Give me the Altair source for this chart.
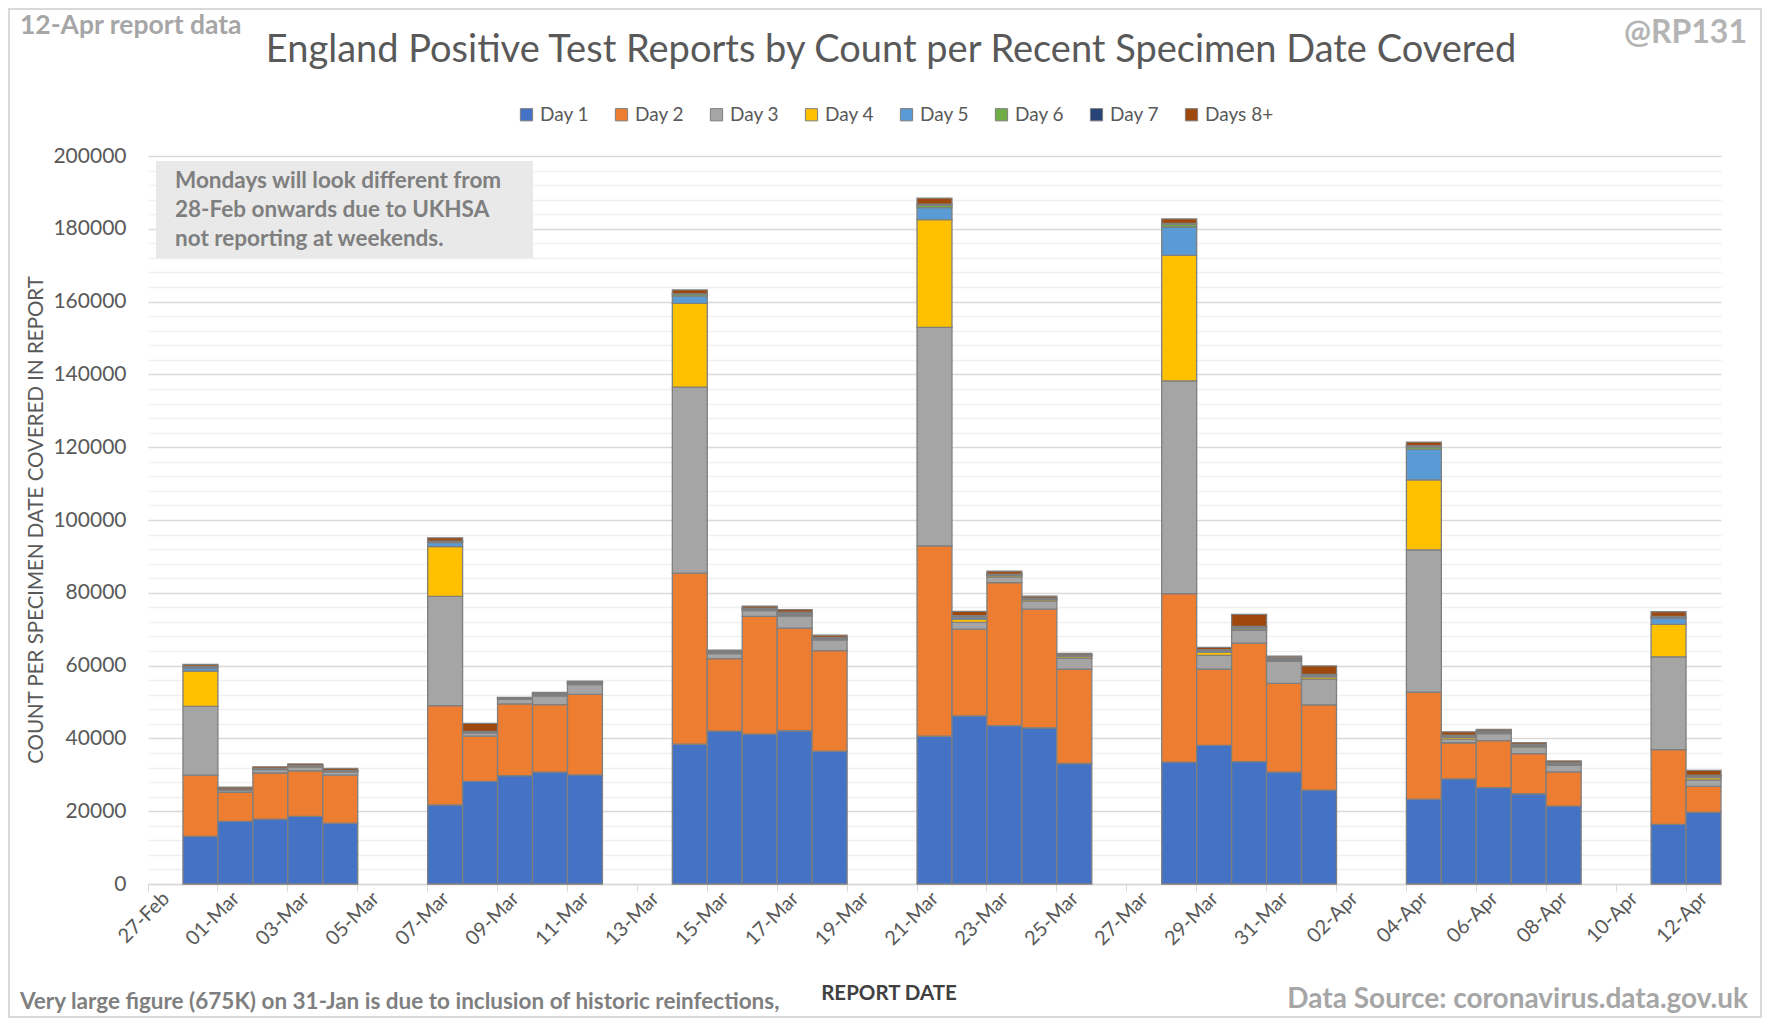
import altair as alt
import pandas as pd

# ---- category axis (every calendar day shown on the axis) ----
all_dates = ["27-Feb", "28-Feb"] + [f"{d:02d}-Mar" for d in range(1, 32)] + [f"{d:02d}-Apr" for d in range(1, 13)]

# ---- report dates with data ----
report_dates = [
    "28-Feb", "01-Mar", "02-Mar", "03-Mar", "04-Mar",
    "07-Mar", "08-Mar", "09-Mar", "10-Mar", "11-Mar",
    "14-Mar", "15-Mar", "16-Mar", "17-Mar", "18-Mar",
    "21-Mar", "22-Mar", "23-Mar", "24-Mar", "25-Mar",
    "28-Mar", "29-Mar", "30-Mar", "31-Mar", "01-Apr",
    "04-Apr", "05-Apr", "06-Apr", "07-Apr", "08-Apr",
    "11-Apr", "12-Apr",
]

day1 = [13100, 17200, 17800, 18600, 16700,
        21700, 28200, 29800, 30700, 30000,
        38400, 42000, 41200, 42100, 36500,
        40600, 46200, 43500, 42900, 33100,
        33500, 38100, 33600, 30700, 25800,
        23300, 28900, 26500, 24800, 21400,
        16400, 19700]
day2 = [16800, 8000, 12700, 12500, 13200,
        27300, 12400, 19700, 18600, 22100,
        47000, 19900, 32300, 28200, 27600,
        52300, 23800, 39300, 32600, 25900,
        46300, 20900, 32600, 24400, 23400,
        29400, 9900, 12900, 11000, 9400,
        20500, 7100]
day3 = [18900, 600, 900, 1000, 900,
        30000, 900, 1200, 2400, 2700,
        51100, 1400, 1600, 3400, 3000,
        60000, 1900, 1500, 2200, 3000,
        58400, 3800, 3500, 6100, 7100,
        39100, 1000, 1900, 1800, 1800,
        25500, 1800]
day4 = [9700, 100, 100, 200, 200,
        13700, 200, 200, 300, 300,
        23000, 300, 300, 400, 300,
        29600, 800, 400, 400, 500,
        34500, 900, 400, 400, 600,
        19200, 500, 300, 300, 300,
        8900, 600]
day5 = [900, 100, 100, 100, 100,
        1100, 100, 100, 200, 200,
        2000, 200, 200, 300, 200,
        3300, 500, 300, 300, 300,
        7800, 400, 400, 300, 400,
        8400, 300, 300, 300, 300,
        1700, 400]
day6 = [300, 50, 50, 50, 50,
        300, 100, 50, 100, 100,
        500, 100, 100, 200, 100,
        700, 300, 100, 100, 100,
        700, 200, 200, 200, 200,
        700, 200, 100, 100, 100,
        300, 200]
day7 = [100, 30, 30, 30, 30,
        100, 50, 30, 50, 50,
        200, 50, 50, 100, 50,
        300, 200, 50, 50, 50,
        300, 100, 100, 100, 100,
        300, 100, 50, 50, 50,
        200, 100]
days8 = [500, 500, 500, 500, 600,
         900, 2200, 200, 300, 300,
         1000, 300, 600, 700, 600,
         1600, 1200, 800, 500, 400,
         1200, 600, 3300, 400, 2300,
         1000, 900, 450, 500, 450,
         1300, 1300]

series = ["Day 1", "Day 2", "Day 3", "Day 4", "Day 5", "Day 6", "Day 7", "Days 8+"]
colors = ["#4472C4", "#ED7D31", "#A5A5A5", "#FFC000", "#5B9BD5", "#70AD47", "#264478", "#9E480E"]
values = [day1, day2, day3, day4, day5, day6, day7, days8]

rows = []
for i, d in enumerate(report_dates):
    for k, s in enumerate(series):
        rows.append({"date": d, "series": s, "order": k, "value": values[k][i]})
df = pd.DataFrame(rows)

FONT = "Lato"
W, H = 1573, 728
BAND = W / len(all_dates)

grid_cond = {"condition": {"test": "datum.value % 20000 === 0", "value": "#d9d9d9"}, "value": "#f0f0f0"}

bars = alt.Chart(df).mark_bar(stroke="#7f7f7f", strokeWidth=1.3).encode(
    x=alt.X("date:O",
            scale=alt.Scale(domain=all_dates, paddingInner=0, paddingOuter=0),
            axis=alt.Axis(values=all_dates[::2], labelAngle=-45, labelAlign="right",
                          labelBaseline="middle", bandPosition=0, labelOffset=1,
                          tickSize=7, tickColor="#d9d9d9", domainColor="#d9d9d9",
                          domainWidth=1.5, labelFont=FONT, labelFontSize=20,
                          labelColor="#595959", labelPadding=4, grid=False, title=None)),
    y=alt.Y("value:Q", stack="zero",
            scale=alt.Scale(domain=[0, 200000], nice=False, zero=True),
            axis=alt.Axis(values=list(range(0, 200001, 4000)), format="d",
                          labelExpr="datum.value % 20000 === 0 ? datum.label : ''",
                          labelOverlap=False, gridColor=grid_cond, gridWidth=1.3,
                          domain=False, ticks=False, labelPadding=22, labelFont=FONT,
                          labelFontSize=21, labelColor="#595959", title=None)),
    color=alt.Color("series:N",
                    scale=alt.Scale(domain=series, range=colors),
                    legend=alt.Legend(orient="none", legendX=369, legendY=-51,
                                      direction="horizontal", columns=8, title=None,
                                      symbolType="square", symbolSize=150,
                                      symbolStrokeColor="#7f7f7f", symbolStrokeWidth=1,
                                      labelFont=FONT, labelFontSize=19, labelColor="#595959",
                                      columnPadding=22, labelOffset=4)),
    order=alt.Order("order:Q", sort="ascending"),
)


def text_layer(txt, x, y, size, color, weight="normal", align="left", angle=0, **kw):
    return alt.Chart(pd.DataFrame({"t": [txt]})).mark_text(
        font=FONT, fontSize=size, color=color, fontWeight=weight, align=align,
        baseline="middle", angle=angle, **kw
    ).encode(x=alt.value(x), y=alt.value(y), text="t:N")


box = alt.Chart(pd.DataFrame({"a": [0]})).mark_rect(color="#e9e9e9").encode(
    x=alt.value(8), x2=alt.value(385), y=alt.value(5), y2=alt.value(102)
)
border = alt.Chart(pd.DataFrame({"a": [0]})).mark_rect(
    fill="transparent", stroke="#d9d9d9", strokeWidth=2
).encode(x=alt.value(-139), x2=alt.value(W + 40), y=alt.value(-147), y2=alt.value(H + 133))

note = alt.Chart(pd.DataFrame({"t": ["Mondays will look different from\n28-Feb onwards due to UKHSA\nnot reporting at weekends."]})).mark_text(
    font=FONT, fontSize=22.5, color="#7f7f7f", fontWeight="bold", align="left",
    baseline="top", lineBreak="\n", lineHeight=29
).encode(x=alt.value(27), y=alt.value(14), text="t:N")

layers = [
    border,
    box,
    note,
    bars,
    text_layer("England Positive Test Reports by Count per Recent Specimen Date Covered",
               743, -105, 38, "#595959", align="center"),
    text_layer("12-Apr report data", -128, -130, 26.5, "#a6a6a6", weight="bold"),
    text_layer("@RP131", 1599, -123, 32, "#b4b4b4", weight="bold", align="right"),
    text_layer("COUNT PER SPECIMEN DATE COVERED IN REPORT", -111, H / 2, 20.5, "#595959",
               align="center", angle=270),
    text_layer("REPORT DATE", 741, 838, 20.5, "#404040", weight="bold", align="center"),
    text_layer("Very large figure (675K) on 31-Jan is due to inclusion of historic reinfections,",
               -128, 846, 22.5, "#7f7f7f", weight="bold"),
    text_layer("Data Source: coronavirus.data.gov.uk", 1600, 844, 28, "#a6a6a6",
               weight="bold", align="right"),
]

chart = alt.layer(*layers).properties(
    width=W, height=H,
    autosize=alt.AutoSizeParams(type="none"),
    padding={"left": 140, "top": 148, "right": 41, "bottom": 134},
    background="white",
).configure_view(stroke=None)

chart.save("out.html", embed_options={"renderer": "svg", "actions": False})
